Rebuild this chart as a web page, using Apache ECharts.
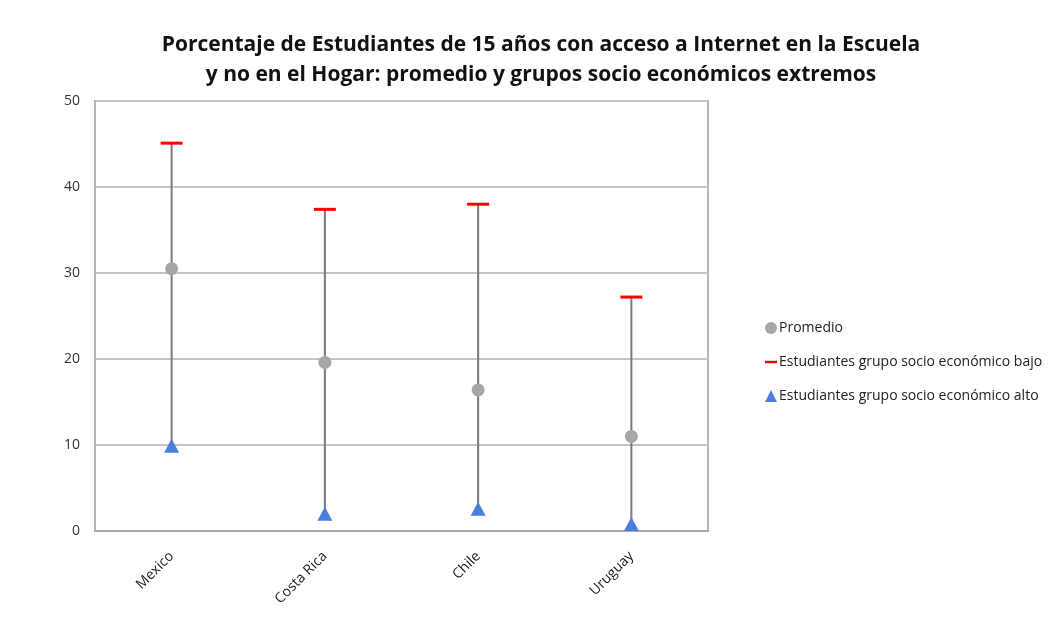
<!DOCTYPE html>
<html>
<head>
<meta charset="utf-8">
<script src="https://cdn.jsdelivr.net/npm/echarts@6/dist/echarts.min.js"></script>
<style>
  html, body { margin: 0; padding: 0; background: #fff; }
  #chart { width: 1050px; height: 626px; }
</style>
</head>
<body>
<div id="chart"></div>
<script>
// Countries and percentages of 15-year-old students with Internet at school but not at home
const countries = ['Mexico', 'Costa Rica', 'Chile', 'Uruguay'];
const promedio = [30.5, 19.6, 16.4, 11.0];
const grupoBajo = [45.1, 37.4, 38.0, 27.2];
const grupoAlto = [9.9, 2.0, 2.6, 0.8];
const yTicks = [0, 10, 20, 30, 40, 50];

const FONT = '"Open Sans", "Noto Sans", sans-serif';

// Vertical range bars from the high-SES value to the low-SES value
const rangeData = countries.map((c, i) => [i, grupoAlto[i], grupoBajo[i]]);

const chart = echarts.init(document.getElementById('chart'), null, { renderer: 'canvas' });

chart.setOption({
  animation: false,
  backgroundColor: '#ffffff',
  title: {
    text: 'Porcentaje de Estudiantes de 15 años con acceso a Internet en la Escuela\ny no en el Hogar: promedio y grupos socio económicos extremos',
    left: 536,
    top: 25,
    textAlign: 'center',
    textStyle: {
      fontFamily: FONT,
      fontSize: 21,
      fontWeight: 'bold',
      color: '#111',
      lineHeight: 30
    }
  },
  legend: {
    orient: 'vertical',
    left: 760,
    top: 316,
    itemGap: 20,
    itemWidth: 12,
    itemHeight: 12,
    textStyle: { fontFamily: FONT, fontSize: 14, color: '#222', padding: [0, 0, 0, -3] },
    data: [
      { name: 'Promedio', icon: 'circle', itemStyle: { color: '#a6a6a6' } },
      { name: 'Estudiantes grupo socio económico bajo', icon: 'path://M0,0 L10,0 L10,2 L0,2 Z', itemStyle: { color: '#ff0000' } },
      { name: 'Estudiantes grupo socio económico alto', icon: 'triangle', itemStyle: { color: '#4a7fe0' } }
    ]
  },
  grid: {
    left: 95,
    top: 101,
    width: 613,
    height: 430,
    show: true,
    borderColor: '#b5b5b5',
    borderWidth: 2,
    containLabel: false
  },
  xAxis: {
    type: 'category',
    data: countries,
    boundaryGap: true,
    axisLine: { show: true, lineStyle: { color: '#a8a8a8', width: 2 } },
    axisTick: { show: false },
    axisLabel: {
      rotate: 45,
      margin: 23,
      fontFamily: FONT,
      fontSize: 14,
      color: '#222'
    }
  },
  yAxis: {
    type: 'value',
    min: yTicks[0],
    max: yTicks[yTicks.length - 1],
    interval: 10,
    axisLine: { show: true, lineStyle: { color: '#b5b5b5', width: 2 } },
    axisTick: { show: false },
    axisLabel: {
      margin: 15,
      fontFamily: FONT,
      fontSize: 14,
      color: '#333'
    },
    splitLine: { show: true, lineStyle: { color: '#c4c4c4', width: 2 } }
  },
  series: [
    {
      name: 'rango',
      type: 'custom',
      silent: true,
      z: 1,
      renderItem: function (params, api) {
        const x = api.value(0);
        const p1 = api.coord([x, api.value(1)]);
        const p2 = api.coord([x, api.value(2)]);
        return {
          type: 'line',
          shape: { x1: p1[0], y1: p1[1], x2: p2[0], y2: p2[1] },
          style: { stroke: '#7a7a7a', lineWidth: 2 }
        };
      },
      encode: { x: 0, y: [1, 2] },
      data: rangeData
    },
    {
      name: 'Promedio',
      type: 'scatter',
      z: 3,
      symbol: 'circle',
      symbolSize: 13,
      itemStyle: { color: '#a6a6a6', opacity: 1 },
      data: promedio
    },
    {
      name: 'Estudiantes grupo socio económico bajo',
      type: 'scatter',
      z: 3,
      symbol: 'rect',
      symbolSize: [22, 3],
      itemStyle: { color: '#ff0000', opacity: 1 },
      data: grupoBajo
    },
    {
      name: 'Estudiantes grupo socio económico alto',
      type: 'scatter',
      z: 3,
      symbol: 'triangle',
      symbolSize: [15, 14],
      itemStyle: { color: '#4a7fe0', opacity: 1 },
      data: grupoAlto
    }
  ]
});
</script>
</body>
</html>
